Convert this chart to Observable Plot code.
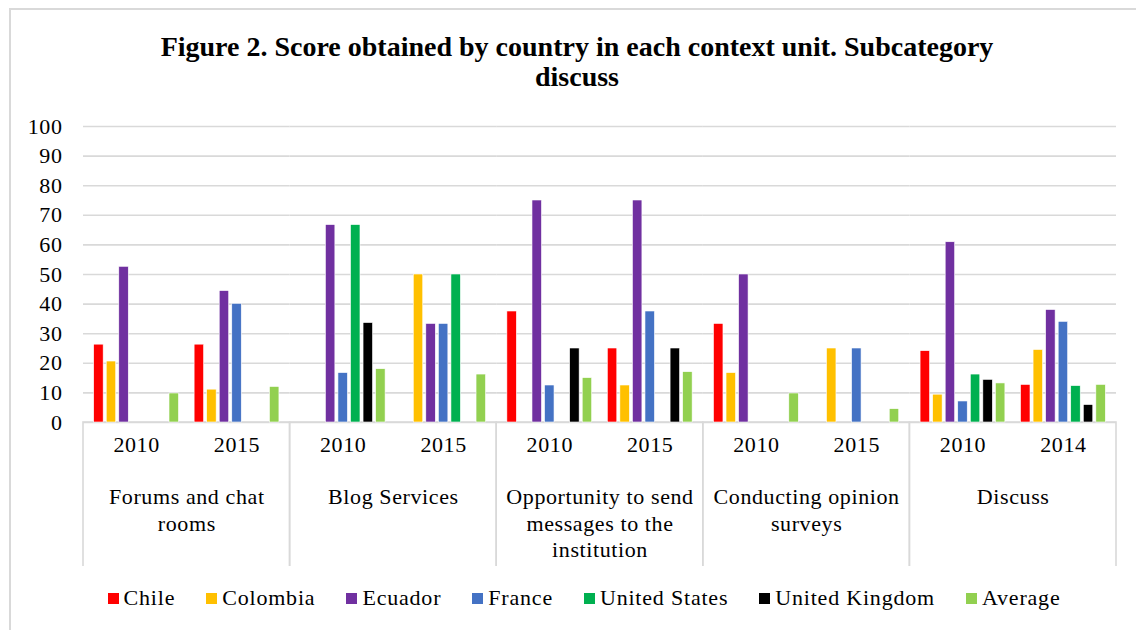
<!DOCTYPE html>
<html>
<head>
<meta charset="utf-8">
<script src="https://cdn.jsdelivr.net/npm/d3@7"></script>
<script src="https://cdn.jsdelivr.net/npm/@observablehq/plot@0.6"></script>
<style>
  html, body { margin: 0; padding: 0; background: #fff; }
  body { width: 1136px; height: 630px; position: relative; overflow: hidden; font-family: "Liberation Serif", "Times New Roman", serif; }
  #frame { position: absolute; left: 9px; top: 8px; width: 1150px; height: 640px; border-top: 2px solid #d9d9d9; border-left: 2px solid #d9d9d9; box-sizing: border-box; }
  #title { position: absolute; left: 9px; top: 32px; width: 1136px; text-align: center; font-weight: bold; font-size: 28px; line-height: 30px; color: #000; }
  #chart { position: absolute; left: 0; top: 110px; }
  #legend { position: absolute; left: 0; top: 585px; width: 1168px; display: flex; justify-content: center; gap: 31px; font-size: 22px; letter-spacing: 0.8px; color: #000; }
  #legend .item { display: flex; align-items: center; white-space: nowrap; }
  #legend .sw { width: 11px; height: 11px; margin-right: 5px; }
</style>
</head>
<body>
<div id="frame"></div>
<div id="title">Figure 2. Score obtained by country in each context unit. Subcategory<br>discuss</div>
<div id="chart"></div>
<div id="legend"></div>
<script>
const categories = ["Forums and chat rooms", "Blog Services", "Opportunity to send messages to the institution", "Conducting opinion surveys", "Discuss"];
const categoryLabels = ["Forums and chat\nrooms", "Blog Services", "Opportunity to send\nmessages to the\ninstitution", "Conducting opinion\nsurveys", "Discuss"];
const years = [["2010", "2015"], ["2010", "2015"], ["2010", "2015"], ["2010", "2015"], ["2010", "2014"]];
const series = ["Chile", "Colombia", "Ecuador", "France", "United States", "United Kingdom", "Average"];
const colors = ["#FF0000", "#FFC000", "#7030A0", "#4472C4", "#00B050", "#000000", "#92D050"];
const yTicks = [0, 10, 20, 30, 40, 50, 60, 70, 80, 90, 100];

// values per series, in order: Forums 2010, Forums 2015, Blog 2010, Blog 2015, Opportunity 2010, Opportunity 2015,
// Conducting 2010, Conducting 2015, Discuss 2010, Discuss 2014
const chile         = [26.3, 26.3, 0,    0,    37.5, 25,   33.3, 0,   24.1, 12.7];
const colombia      = [20.6, 11.1, 0,    50,   0,    12.5, 16.7, 25,  9.4,  24.5];
const ecuador       = [52.6, 44.4, 66.7, 33.3, 75,   75,   50,   0,   60.9, 38.0];
const france        = [0,    40.1, 16.7, 33.3, 12.5, 37.5, 0,    25,  7.1,  34.0];
const unitedStates  = [0,    0,    66.7, 50,   0,    0,    0,    0,   16.2, 12.3];
const unitedKingdom = [0,    0,    33.6, 0,    25,   25,   0,    0,   14.4, 5.9];
const average       = [9.8,  12.0, 18.0, 16.2, 15.0, 17.0, 9.8,  4.5, 13.2, 12.7];
const seriesValues = [chile, colombia, ecuador, france, unitedStates, unitedKingdom, average];

const rows = [];
const groups = [];
categories.forEach((cat, ci) => {
  years[ci].forEach((year, gi) => {
    groups.push({cat, gi, year});
    series.forEach((s, si) => {
      const v = seriesValues[si][ci * 2 + gi];
      if (v > 0) rows.push({cat, slot: `${gi}|${s}`, series: s, value: v});
    });
  });
});
const slots = [...series.map(s => `0|${s}`), "mid", ...series.map(s => `1|${s}`)];
const centerSeries = series[3];

const chart = Plot.plot({
  width: 1136,
  height: 456,
  marginTop: 16,
  marginLeft: 83,
  marginRight: 20,
  marginBottom: 144,
  style: {fontFamily: "Liberation Serif, Times New Roman, serif", fontSize: "22px", color: "#000", background: "transparent", overflow: "hidden", letterSpacing: "0.6px"},
  fx: {domain: categories, paddingInner: 0, paddingOuter: 0, round: false, axis: null},
  x: {domain: slots, paddingInner: 0.244, paddingOuter: 0.85, round: false, axis: null},
  y: {domain: [0, 100], axis: null, label: null},
  color: {domain: series, range: colors},
  marks: [
    Plot.gridY(yTicks, {stroke: "#d9d9d9", strokeOpacity: 1, strokeWidth: 1.6}),
    Plot.barY(categories, {fx: d => d, y1: 0, y2: 0, insetBottom: -175, fill: "none", stroke: "#d9d9d9", strokeWidth: 1.6}),
    Plot.barY(rows, {fx: "cat", x: "slot", y: "value", fill: "series", stroke: "#fff", strokeWidth: 0.6}),
    Plot.axisY({ticks: yTicks, tickSize: 0, tickPadding: 21, fontSize: 22, label: null}),
    Plot.text(groups, {fx: "cat", x: d => `${d.gi}|${centerSeries}`, text: "year", frameAnchor: "bottom", dy: 29, fontSize: 22}),
    Plot.text(categories, {fx: d => d, text: (d, i) => categoryLabels[i], frameAnchor: "bottom", lineAnchor: "top", lineHeight: 1.2, dy: 63, fontSize: 22})
  ]
});
document.getElementById("chart").appendChild(chart);

const legend = document.getElementById("legend");
series.forEach((s, i) => {
  const item = document.createElement("div");
  item.className = "item";
  const sw = document.createElement("span");
  sw.className = "sw";
  sw.style.background = colors[i];
  const label = document.createElement("span");
  label.textContent = s;
  item.appendChild(sw);
  item.appendChild(label);
  legend.appendChild(item);
});
</script>
</body>
</html>
